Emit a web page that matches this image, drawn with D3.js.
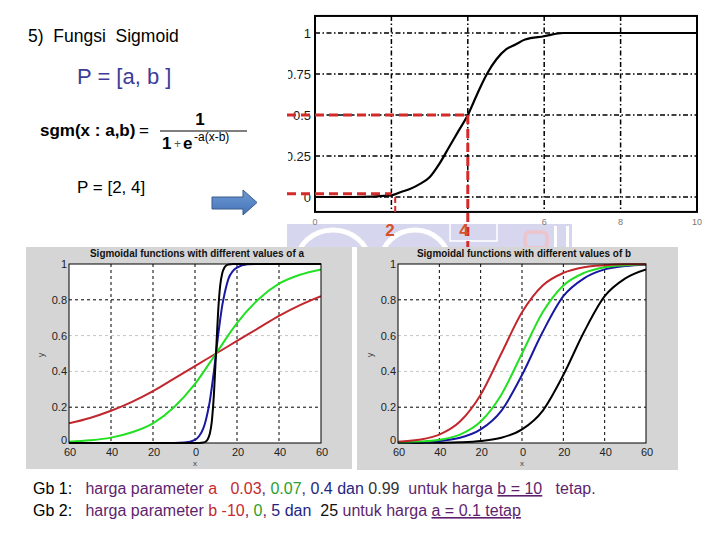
<!DOCTYPE html>
<html><head><meta charset="utf-8">
<script src="https://cdn.jsdelivr.net/npm/d3@7"></script>
<style>
body{margin:0;background:#fff;}
svg{display:block;font-family:"Liberation Sans",Arial,sans-serif;}
text{white-space:pre;}
</style></head>
<body><svg id="c" width="720" height="540" xml:space="preserve"></svg>
<script>
// ---------- data ----------
// top chart: S-shaped curve, P = [2, 4]
const topX = [0, 1, 2, 2.25, 2.5, 2.75, 3, 3.25, 3.5, 3.75, 4, 4.25, 4.5, 4.75, 5, 5.25, 5.5, 6, 6.5, 7, 8, 9, 10];
const topY = [0, 0, 0.01, 0.03, 0.05, 0.08, 0.12, 0.2, 0.3, 0.4, 0.5, 0.63, 0.75, 0.84, 0.9, 0.93, 0.96, 0.98, 1, 1, 1, 1, 1];
const topYTicks = [0, 0.25, 0.5, 0.75, 1];
const topYLabels = ["0", "0.25", "0.5", "0.75", "1"];
const topXGrid = [2, 4, 6, 8];
const topXTicks = [0, 6, 8, 10];
const topXLabels = ["0", "6", "8", "10"];

// bottom-left: different values of a (b = 10)
const aX = [-60, -50, -40, -30, -20, -10, 0, 10, 20, 30, 40, 50, 60];
const aRed   = [0.11, 0.14, 0.18, 0.23, 0.29, 0.36, 0.43, 0.5, 0.57, 0.64, 0.71, 0.77, 0.82];
const aGreen = [0.007, 0.015, 0.03, 0.06, 0.11, 0.2, 0.33, 0.5, 0.67, 0.8, 0.89, 0.94, 0.97];
const steepX = [-60, -20, -10, -5, 0, 2, 4, 5, 6, 7, 8, 9, 10, 11, 12, 13, 14, 15, 16, 18, 20, 25, 30, 60];
const aBlue  = [0, 0, 0.0003, 0.0025, 0.018, 0.039, 0.083, 0.12, 0.17, 0.23, 0.31, 0.4, 0.5, 0.6, 0.69, 0.77, 0.83, 0.88, 0.92, 0.96, 0.98, 0.998, 1, 1];
const aBlack = [0, 0, 0, 0, 0, 0.0003, 0.003, 0.007, 0.019, 0.05, 0.12, 0.27, 0.5, 0.73, 0.88, 0.95, 0.98, 0.993, 0.997, 1, 1, 1, 1, 1];

// bottom-right: different values of b (a = 0.1)
const bX = [-60, -50, -40, -30, -20, -10, 0, 10, 20, 30, 40, 50, 60];
const bRed   = [0.007, 0.018, 0.047, 0.12, 0.27, 0.5, 0.73, 0.88, 0.95, 0.982, 0.993, 0.998, 0.999];
const bGreen = [0.0025, 0.007, 0.018, 0.047, 0.12, 0.27, 0.5, 0.73, 0.88, 0.95, 0.982, 0.993, 0.998];
const bBlue  = [0.0015, 0.004, 0.011, 0.029, 0.076, 0.18, 0.38, 0.62, 0.82, 0.92, 0.97, 0.989, 0.996];
const bBlack = [0.0002, 0.0006, 0.0015, 0.004, 0.011, 0.029, 0.076, 0.18, 0.38, 0.62, 0.82, 0.92, 0.97];

const botXTicks = [-60, -40, -20, 0, 20, 40, 60];
const botXLabels = ["60", "40", "20", "0", "20", "40", "60"];
const botYTicks = [0, 0.2, 0.4, 0.6, 0.8, 1];
const botYLabels = ["0", "0.2", "0.4", "0.6", "0.8", "1"];

// ---------- drawing ----------
const svg = d3.select("#c");
svg.append("rect").attr("width", 720).attr("height", 540).attr("fill", "#fff");
const defs = svg.append("defs");

// faint watermark behind
const wm = svg.append("g");
wm.append("rect").attr("x", 287).attr("y", 224).attr("width", 285).attr("height", 23).attr("fill", "#d6d6ee");
wm.append("ellipse").attr("cx", 333).attr("cy", 262).attr("rx", 36).attr("ry", 32).attr("fill", "none").attr("stroke", "#fff").attr("stroke-width", 5);
wm.append("ellipse").attr("cx", 415).attr("cy", 262).attr("rx", 34).attr("ry", 32).attr("fill", "none").attr("stroke", "#fff").attr("stroke-width", 5);
wm.append("rect").attr("x", 450).attr("y", 221).attr("width", 47).attr("height", 20).attr("fill", "none").attr("stroke", "#fff").attr("stroke-width", 1.5);
wm.append("rect").attr("x", 525).attr("y", 232).attr("width", 22).attr("height", 16).attr("rx", 5).attr("fill", "none").attr("stroke", "#ecc6ce").attr("stroke-width", 4);
wm.append("rect").attr("x", 554).attr("y", 226).attr("width", 3).attr("height", 22).attr("fill", "#fff");
wm.append("rect").attr("x", 566).attr("y", 226).attr("width", 3).attr("height", 22).attr("fill", "#fff");

// ---- left text block ----
svg.append("text").attr("x", 28).attr("y", 42).attr("font-size", 17.5).attr("fill", "#000").text("5)  Fungsi  Sigmoid");
svg.append("text").attr("x", 77).attr("y", 84).attr("font-size", 22).attr("fill", "#3d3d99").text("P = [a, b ]");
svg.append("text").attr("x", 40).attr("y", 136).attr("font-size", 17).attr("font-weight", "bold").text("sgm(x : a,b)");
svg.append("text").attr("x", 139).attr("y", 136).attr("font-size", 17).text("=");
svg.append("text").attr("x", 200).attr("y", 125).attr("font-size", 17).attr("font-weight", "bold").attr("text-anchor", "middle").text("1");
svg.append("line").attr("x1", 160).attr("x2", 247).attr("y1", 131).attr("y2", 131).attr("stroke", "#000").attr("stroke-width", 1.2);
svg.append("text").attr("x", 162).attr("y", 149).attr("font-size", 17).attr("font-weight", "bold").text("1");
svg.append("text").attr("x", 174).attr("y", 148).attr("font-size", 12).attr("fill", "#555").text("+");
svg.append("text").attr("x", 183).attr("y", 149).attr("font-size", 17).attr("font-weight", "bold").text("e");
svg.append("text").attr("x", 194).attr("y", 141).attr("font-size", 12).text("-a(x-b)");
svg.append("text").attr("x", 77).attr("y", 193).attr("font-size", 17).text("P = [2, 4]");

// arrow
const grad = defs.append("linearGradient").attr("id", "ag").attr("x1", 0).attr("x2", 0).attr("y1", 0).attr("y2", 1);
grad.append("stop").attr("offset", "0%").attr("stop-color", "#6f9bd4");
grad.append("stop").attr("offset", "100%").attr("stop-color", "#4472b8");
svg.append("path").attr("d", "M212,197 L243,197 L243,190 L257,202.5 L243,215 L243,209 L212,209 Z")
  .attr("fill", "url(#ag)").attr("stroke", "#385d8a").attr("stroke-width", 1);

// ---- top chart ----
const tx = d3.scaleLinear().domain([0, 10]).range([315, 697]);
const ty = d3.scaleLinear().domain([0, 1]).range([197, 33]);
const tTop = ty(1.104), tBot = ty(-0.091);
const tg = svg.append("g");
const dashDot = "5,2.5,1.5,2.5";
tg.selectAll("line.gx").data(topXGrid).join("line")
  .attr("x1", d => tx(d)).attr("x2", d => tx(d)).attr("y1", tTop).attr("y2", tBot)
  .attr("stroke", "#000").attr("stroke-width", 1.5).attr("stroke-dasharray", dashDot);
tg.selectAll("line.gy").data(topYTicks).join("line")
  .attr("x1", tx(0)).attr("x2", tx(10)).attr("y1", d => ty(d)).attr("y2", d => ty(d))
  .attr("stroke", "#000").attr("stroke-width", 1.5).attr("stroke-dasharray", dashDot);
const topLine = d3.line().x(d => tx(d[0])).y(d => ty(d[1])).curve(d3.curveMonotoneX);
tg.append("path").attr("d", topLine(topX.map((x, i) => [x, topY[i]])))
  .attr("fill", "none").attr("stroke", "#000").attr("stroke-width", 2.2);
tg.append("rect").attr("x", tx(0)).attr("y", tTop).attr("width", tx(10) - tx(0)).attr("height", tBot - tTop)
  .attr("fill", "none").attr("stroke", "#000").attr("stroke-width", 2);
// y labels (left part clipped like the reference)
defs.append("clipPath").attr("id", "tclip").append("rect").attr("x", 288).attr("y", 0).attr("width", 40).attr("height", 240);
tg.append("g").attr("clip-path", "url(#tclip)").selectAll("text").data(topYTicks).join("text")
  .attr("x", 311).attr("y", d => ty(d) + 4.5).attr("text-anchor", "end").attr("font-size", 13)
  .attr("fill", "#1a1a1a").text((d, i) => topYLabels[i]);
tg.selectAll("text.xt").data(topXTicks).join("text")
  .attr("x", d => tx(d)).attr("y", 225).attr("text-anchor", "middle").attr("font-size", 9)
  .attr("fill", "#777").text((d, i) => topXLabels[i]);

// red dashed guides
const red = "#d42a2a";
const rg = svg.append("g").attr("stroke", red).attr("stroke-width", 3).attr("stroke-dasharray", "9,5").attr("fill", "none");
rg.append("line").attr("x1", 287).attr("x2", tx(4)).attr("y1", ty(0.5)).attr("y2", ty(0.5));
rg.append("line").attr("x1", 287).attr("x2", tx(2)).attr("y1", ty(0.02)).attr("y2", ty(0.02));
rg.append("line").attr("x1", tx(4)).attr("x2", tx(4)).attr("y1", ty(0.5)).attr("y2", 247);
rg.append("line").attr("x1", tx(2.1)).attr("x2", tx(2.1)).attr("y1", ty(0)).attr("y2", 213).attr("stroke-width", 2).attr("stroke-dasharray", "6,3");
svg.append("text").attr("x", 390).attr("y", 236).attr("text-anchor", "middle").attr("font-size", 17).attr("font-weight", "bold").attr("fill", "#d6502c").text("2");
svg.append("text").attr("x", 464).attr("y", 236).attr("text-anchor", "middle").attr("font-size", 17).attr("font-weight", "bold").attr("fill", "#d6502c").text("4");

// ---- bottom panels ----
function panel(cfg) {
  const g = svg.append("g");
  g.append("rect").attr("x", cfg.px).attr("y", cfg.py).attr("width", cfg.pw).attr("height", cfg.ph).attr("fill", "#d5d5d5");
  const x = d3.scaleLinear().domain([-60, 60]).range([cfg.x0, cfg.x1]);
  const y = d3.scaleLinear().domain([0, 1]).range([443, 264]);
  g.append("rect").attr("x", cfg.x0).attr("y", y(1)).attr("width", cfg.x1 - cfg.x0).attr("height", y(0) - y(1)).attr("fill", "#fff");
  g.selectAll("line.vx").data(botXTicks.slice(1, -1)).join("line")
    .attr("x1", d => x(d)).attr("x2", d => x(d)).attr("y1", y(1)).attr("y2", y(0))
    .attr("stroke", "#000").attr("stroke-width", 1).attr("stroke-dasharray", "3,3");
  g.selectAll("line.hy").data(botYTicks.slice(1, -1)).join("line")
    .attr("x1", cfg.x0).attr("x2", cfg.x1).attr("y1", d => y(d)).attr("y2", d => y(d))
    .attr("stroke", d => (d === 0.4 || d === 0.6) ? "#c4c4c4" : "#000").attr("stroke-width", 1).attr("stroke-dasharray", "3,3");
  const clipId = "clip" + cfg.x0;
  defs.append("clipPath").attr("id", clipId).append("rect")
    .attr("x", cfg.x0).attr("y", y(1) - 1.5).attr("width", cfg.x1 - cfg.x0).attr("height", y(0) - y(1) + 3);
  const line = d3.line().x(d => x(d[0])).y(d => y(d[1])).curve(d3.curveMonotoneX);
  const cg = g.append("g").attr("clip-path", `url(#${clipId})`);
  cfg.series.forEach(s => {
    cg.append("path").attr("d", line(s.xs.map((v, i) => [v, s.ys[i]])))
      .attr("fill", "none").attr("stroke", s.color).attr("stroke-width", 2);
  });
  g.append("rect").attr("x", cfg.x0).attr("y", y(1)).attr("width", cfg.x1 - cfg.x0).attr("height", y(0) - y(1))
    .attr("fill", "none").attr("stroke", "#000").attr("stroke-width", 1);
  g.selectAll("text.yl").data(botYTicks).join("text")
    .attr("x", cfg.x0 - 2).attr("y", d => d === 0 ? y(d) + 1 : y(d) + 4).attr("text-anchor", "end").attr("font-size", 11)
    .attr("fill", "#222").text((d, i) => botYLabels[i]);
  g.selectAll("text.xl").data(botXTicks).join("text")
    .attr("x", d => x(d) + 1).attr("y", 456).attr("text-anchor", "middle").attr("font-size", 11)
    .attr("fill", "#222").text((d, i) => botXLabels[i]);
  g.append("text").attr("x", (cfg.x0 + cfg.x1) / 2).attr("y", 466).attr("text-anchor", "middle").attr("font-size", 8).attr("fill", "#444").text("x");
  g.append("text").attr("transform", `translate(${cfg.x0 - 25},355) rotate(-90)`).attr("text-anchor", "middle").attr("font-size", 9).attr("fill", "#444").text("y");
  g.append("text").attr("x", (cfg.x0 + cfg.x1) / 2 + 2).attr("y", 257).attr("text-anchor", "middle").attr("font-size", 10)
    .attr("font-weight", "bold").attr("fill", "#111").attr("textLength", 214).attr("lengthAdjust", "spacingAndGlyphs").text(cfg.title);
}
const cRed = "#c1272d", cGreen = "#22e022", cBlue = "#1818a0", cBlack = "#000";
panel({px: 26, py: 247, pw: 326, ph: 222, x0: 69, x1: 321, title: "Sigmoidal functions with different values of a",
  series: [
    {xs: aX, ys: aRed, color: cRed},
    {xs: aX, ys: aGreen, color: cGreen},
    {xs: steepX, ys: aBlue, color: cBlue},
    {xs: steepX, ys: aBlack, color: cBlack}]});
panel({px: 357, py: 247, pw: 321, ph: 223, x0: 398, x1: 646, title: "Sigmoidal functions with different values of b",
  series: [
    {xs: bX, ys: bBlack, color: cBlack},
    {xs: bX, ys: bBlue, color: cBlue},
    {xs: bX, ys: bGreen, color: cGreen},
    {xs: bX, ys: bRed, color: cRed}]});

// ---- caption lines ----
const purple = "#5f1f6f", navy = "#25257f", dred = "#c42b30", dgreen = "#2ca02c";
function caption(yb, parts) {
  const t = svg.append("text").attr("x", 33).attr("y", yb).attr("font-size", 16);
  parts.forEach(p => {
    const s = t.append("tspan").attr("fill", p[1]).text(p[0]);
    if (p[2]) s.style("text-decoration", "underline");
  });
}
caption(494, [
  ["Gb 1:   ", "#000"], ["harga parameter ", purple], ["a   0.03", dred], [", ", purple], ["0.07", dgreen],
  [", ", purple], ["0.4 dan ", navy], ["0.99", "#333"], ["  untuk harga ", purple], ["b = 10", purple, true], ["   tetap.", purple]]);
caption(516, [
  ["Gb 2:   ", "#000"], ["harga parameter ", purple], ["b -10", dred], [", ", purple], ["0", dgreen],
  [", ", purple], ["5 dan  ", navy], ["25 ", "#111"], ["untuk harga ", purple], ["a = 0.1 tetap", purple, true]]);
</script></body></html>
